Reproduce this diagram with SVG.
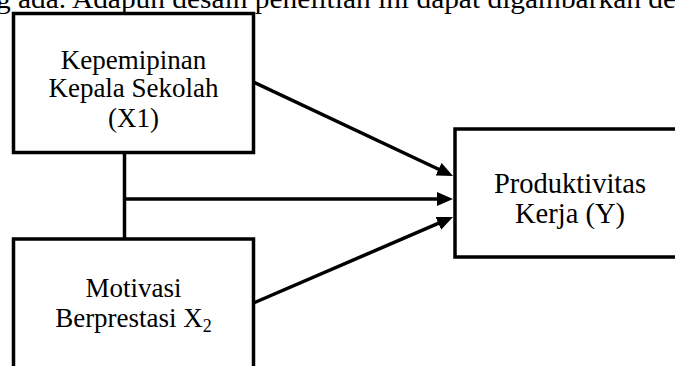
<svg xmlns="http://www.w3.org/2000/svg" width="675" height="366" viewBox="0 0 675 366">
<style>
.box{fill:#fff;stroke:#000;stroke-width:3.5}
.lbl{font-family:"Liberation Serif","Times New Roman",serif;font-size:27px;fill:#000;text-anchor:middle}
.big{font-size:28.5px}
.top{font-family:"Liberation Serif","Times New Roman",serif;font-size:28px;fill:#000}
.ln{stroke:#000;stroke-width:3.5;fill:none}
</style>
<defs>
<marker id="ah" markerUnits="userSpaceOnUse" markerWidth="16" markerHeight="14" refX="10" refY="7" orient="auto" viewBox="0 0 16 14">
<path d="M0,0 L16,7 L0,14 z" fill="#000"/>
</marker>
</defs>
<text class="top" x="-4" y="8" textLength="680" lengthAdjust="spacingAndGlyphs">g ada. Adapun desain penelitian ini dapat digambarkan de</text>
<g id="x1">
<rect class="box" x="13.5" y="13.5" width="240" height="139"/>
<text class="lbl" x="133.5" y="69">Kepemipinan</text>
<text class="lbl" x="133.5" y="97">Kepala Sekolah</text>
<text class="lbl" x="133.5" y="127">(X1)</text>
</g>
<g id="x2">
<rect class="box" x="13.5" y="239" width="240" height="140"/>
<text class="lbl" x="133.5" y="297">Motivasi</text>
<text class="lbl" x="133.5" y="327">Berprestasi X<tspan style="font-size:18px" dy="5">2</tspan></text>
</g>
<g id="y">
<rect class="box" x="455" y="129" width="230" height="128"/>
<text class="lbl big" x="570" y="193">Produktivitas</text>
<text class="lbl big" x="570" y="223">Kerja (Y)</text>
</g>
<g id="connectors">
<line class="ln" x1="124.5" y1="152.5" x2="124.5" y2="239"/>
<line class="ln" x1="124.5" y1="199" x2="447" y2="199" marker-end="url(#ah)"/>
<line class="ln" x1="253.5" y1="82" x2="447.6" y2="173.5" marker-end="url(#ah)"/>
<line class="ln" x1="253.5" y1="303" x2="447.5" y2="219.4" marker-end="url(#ah)"/>
</g>
</svg>
